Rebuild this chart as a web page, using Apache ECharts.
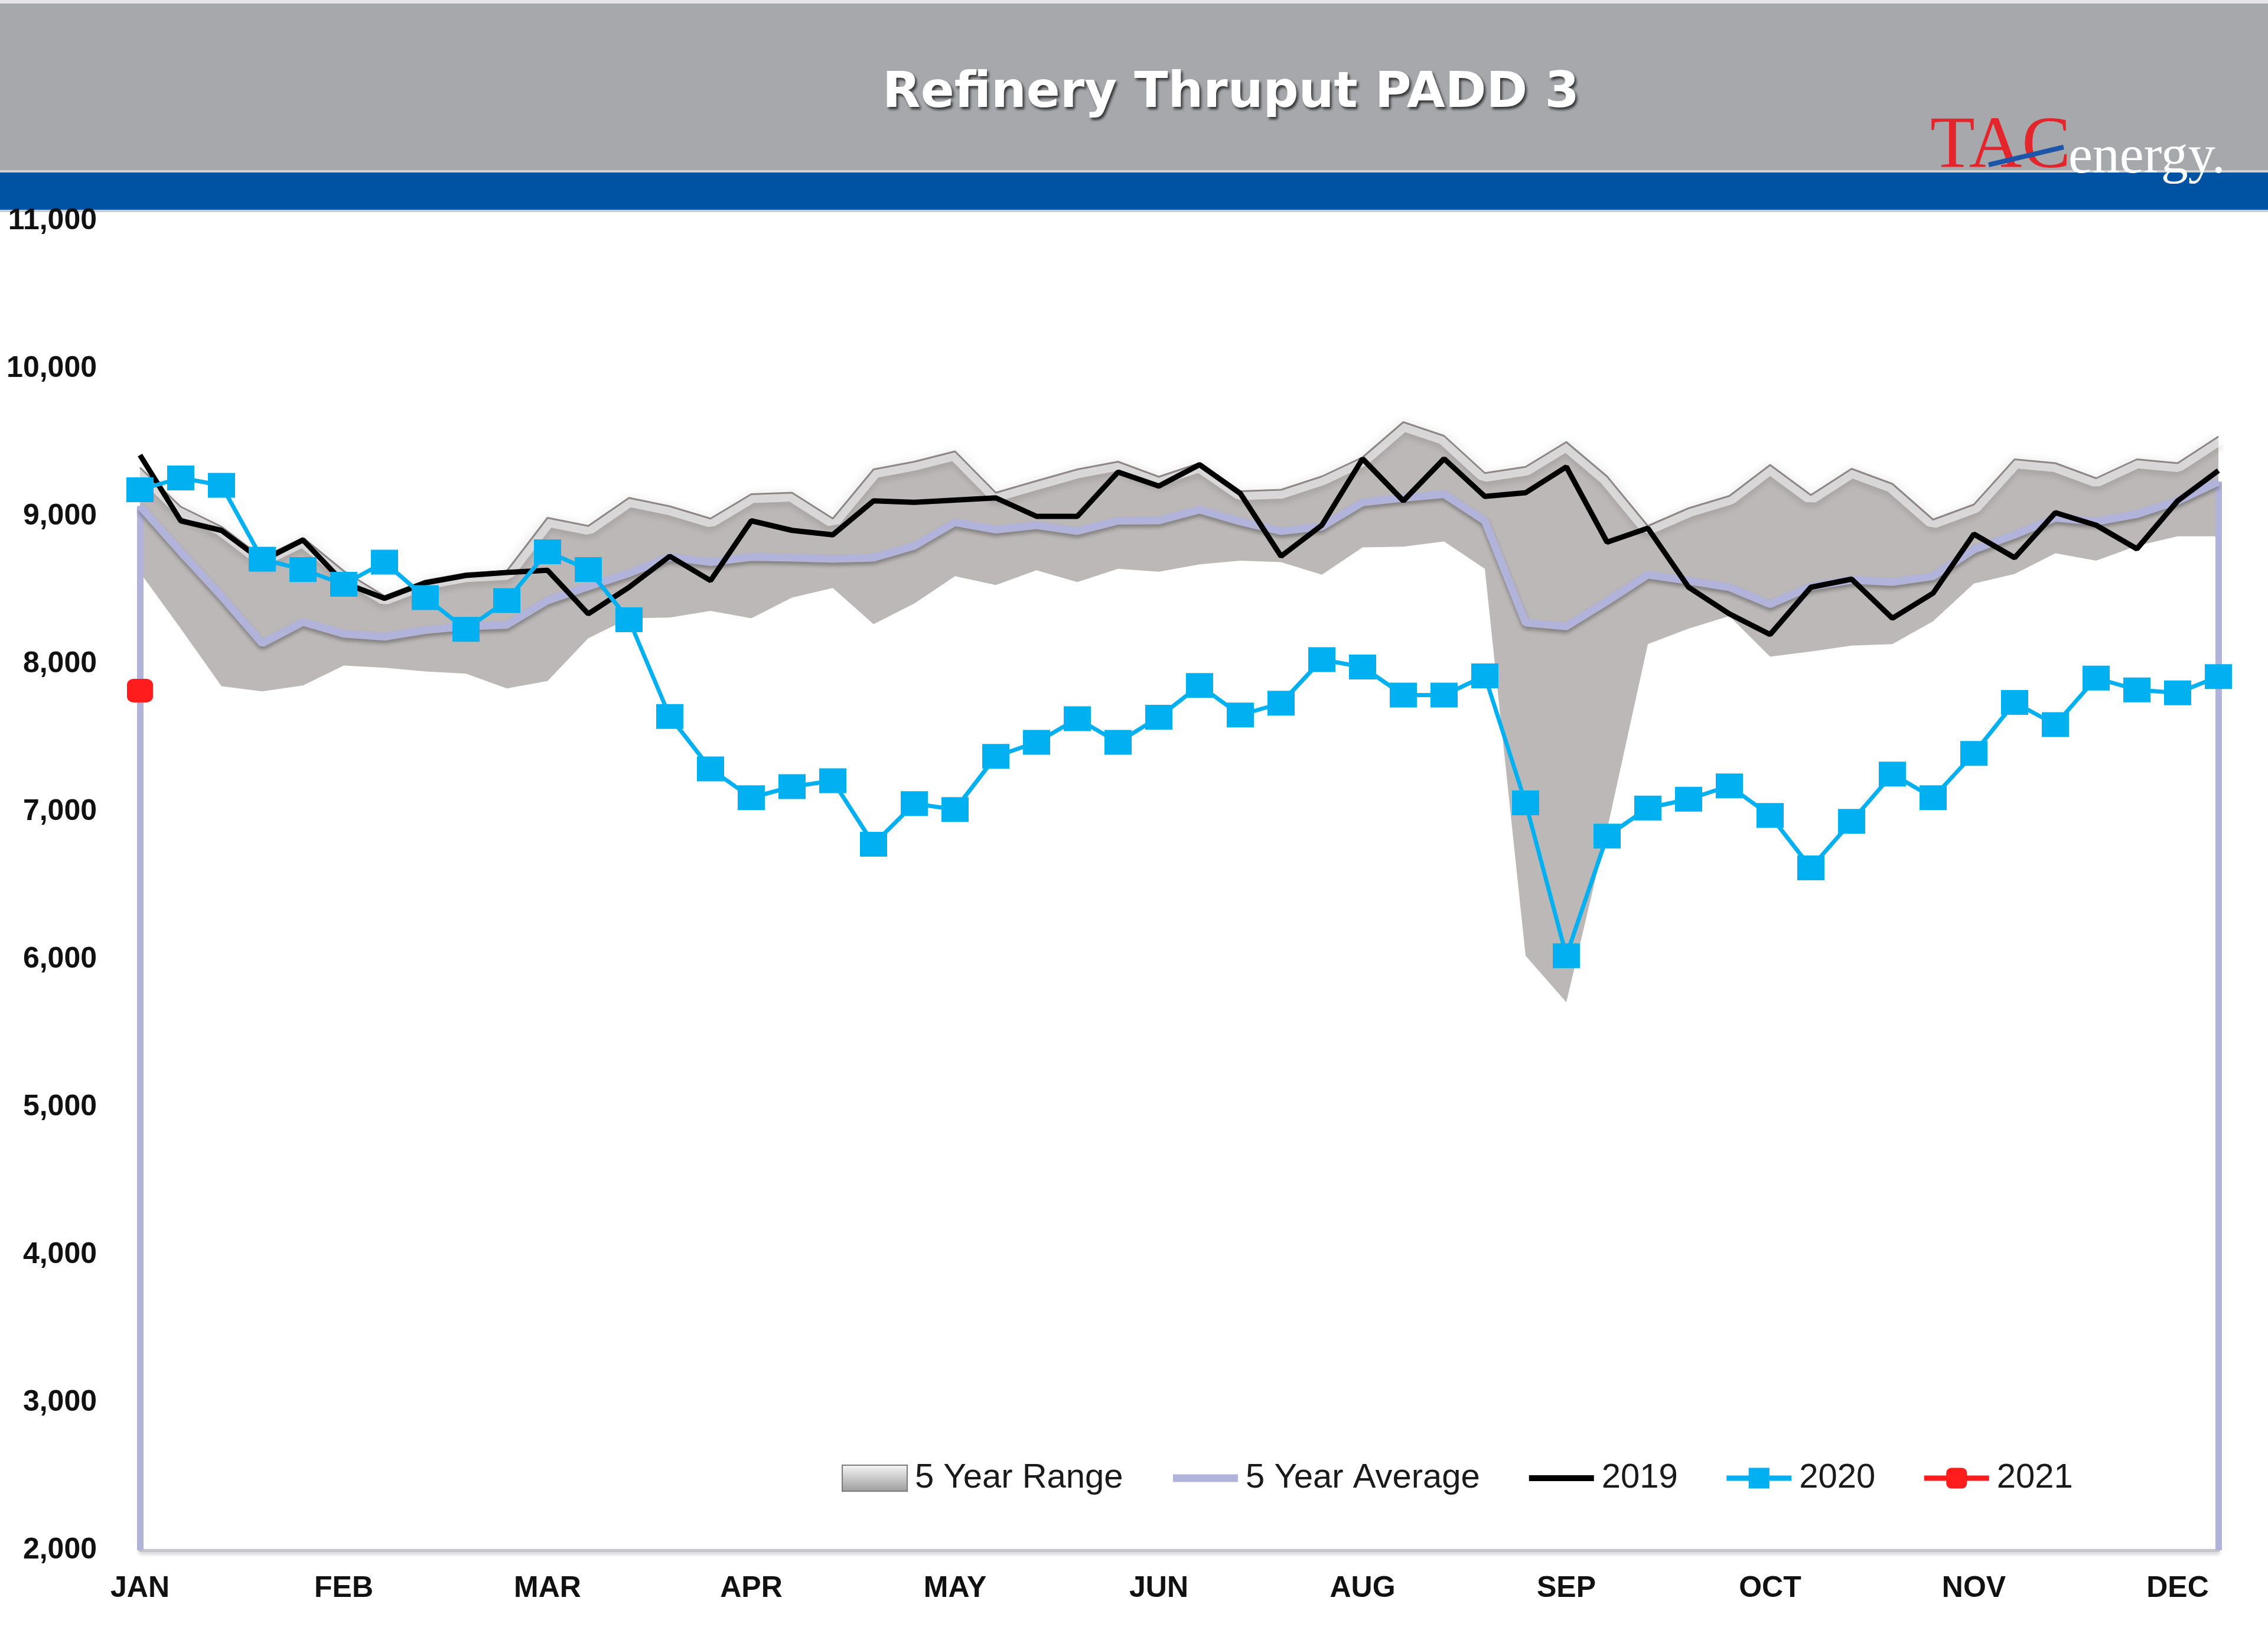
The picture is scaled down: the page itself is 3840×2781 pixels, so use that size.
<!DOCTYPE html>
<html>
<head>
<meta charset="utf-8">
<script src="https://cdn.jsdelivr.net/npm/echarts@6/dist/echarts.min.js"></script>
<style>
  html, body { margin: 0; padding: 0; background: #ffffff; }
  #chart { width: 3840px; height: 2781px; }
</style>
</head>
<body>
<div id="chart"></div>
<script>
// ---------- DATA ----------
const weeks = ['W1','W2','W3','W4','W5','W6','W7','W8','W9','W10','W11','W12','W13','W14','W15','W16','W17','W18','W19','W20','W21','W22','W23','W24','W25','W26','W27','W28','W29','W30','W31','W32','W33','W34','W35','W36','W37','W38','W39','W40','W41','W42','W43','W44','W45','W46','W47','W48','W49','W50','W51','W52'];
const monthLabels = ['JAN','FEB','MAR','APR','MAY','JUN','AUG','SEP','OCT','NOV','DEC'];
const yTicks = [2000, 11000, 1000]; // min, max, step

const rangeLow = [8620, 8240, 7850, 7815, 7855, 7990, 7975, 7950, 7935, 7835, 7885, 8175, 8310, 8315, 8360, 8310, 8450, 8515, 8270, 8410, 8595, 8535, 8635, 8555, 8645, 8625, 8675, 8700, 8690, 8605, 8790, 8795, 8830, 8645, 6025, 5710, 6880, 8135, 8240, 8325, 8050, 8085, 8125, 8135, 8290, 8545, 8610, 8750, 8700, 8800, 8865, 8865];
const rangeHigh = [9330, 9065, 8930, 8720, 8855, 8630, 8460, 8565, 8615, 8630, 8990, 8935, 9125, 9068, 8985, 9150, 9160, 8985, 9318, 9370, 9440, 9160, 9240, 9318, 9370, 9268, 9360, 9170, 9180, 9270, 9400, 9638, 9545, 9293, 9335, 9503, 9270, 8935, 9055, 9138, 9348, 9144, 9322, 9220, 8978, 9080, 9386, 9360, 9258, 9386, 9360, 9540];
const avg5 = [9070, 8760, 8460, 8140, 8285, 8205, 8185, 8230, 8255, 8265, 8430, 8525, 8615, 8725, 8690, 8725, 8720, 8712, 8720, 8800, 8960, 8910, 8940, 8900, 8970, 8972, 9045, 8965, 8900, 8930, 9095, 9125, 9150, 8970, 8280, 8255, 8425, 8605, 8565, 8520, 8405, 8525, 8570, 8555, 8595, 8775, 8875, 8990, 8965, 9015, 9105, 9235];
const y2019 = [9415, 8970, 8905, 8700, 8840, 8550, 8445, 8550, 8600, 8620, 8635, 8340, 8520, 8730, 8565, 8970, 8905, 8875, 9105, 9095, 9110, 9125, 9000, 9000, 9300, 9205, 9350, 9155, 8730, 8940, 9390, 9105, 9390, 9135, 9160, 9335, 8825, 8920, 8520, 8340, 8200, 8520, 8575, 8310, 8480, 8880, 8720, 9025, 8940, 8780, 9105, 9310];
const y2020 = [9180, 9260, 9210, 8710, 8640, 8540, 8690, 8450, 8235, 8430, 8760, 8640, 8300, 7645, 7290, 7095, 7170, 7210, 6780, 7055, 7015, 7375, 7470, 7630, 7470, 7640, 7855, 7655, 7735, 8030, 7980, 7790, 7790, 7920, 7060, 6025, 6835, 7025, 7085, 7175, 6975, 6620, 6935, 7255, 7095, 7395, 7740, 7590, 7905, 7825, 7805, 7915];
const y2021 = [7820];

// ---------- CHART ----------
const rangeSpan = rangeHigh.map((v, i) => v - rangeLow[i]);
const last = weeks.length - 1;
const axisFont = '"Liberation Sans", Arial, sans-serif';
const lavender = '#b2b3da';
const cyan = '#00b0f0';
const red = '#ff1c1c';
const noSymbol = { color: 'rgba(0,0,0,0)', borderWidth: 0 };

const chart = echarts.init(document.getElementById('chart'), null, { renderer: 'canvas' });

chart.setOption({
  animation: false,
  backgroundColor: '#ffffff',
  title: {
    text: 'Refinery Thruput PADD 3',
    left: 2079,
    top: 112,
    textAlign: 'center',
    textStyle: {
      color: '#ffffff',
      fontSize: 84,
      fontWeight: 'bold',
      fontFamily: '"DejaVu Sans", Verdana, sans-serif',
      textShadowColor: 'rgba(30,30,30,0.85)',
      textShadowBlur: 4,
      textShadowOffsetX: 3,
      textShadowOffsetY: 4
    }
  },
  graphic: [
    { type: 'rect', z: -10, shape: { x: 0, y: 0, width: 3840, height: 6 }, style: { fill: '#e6e6e8' } },
    { type: 'rect', z: -10, shape: { x: 0, y: 6, width: 3840, height: 284 }, style: { fill: '#a7a8ac' } },
    { type: 'rect', z: -10, shape: { x: 0, y: 288, width: 3840, height: 4 }, style: { fill: '#d6d0cb' } },
    { type: 'rect', z: -10, shape: { x: 0, y: 292, width: 3840, height: 63 }, style: { fill: '#0053a2' } },
    { type: 'rect', z: -10, shape: { x: 0, y: 355, width: 3840, height: 4 }, style: { fill: '#c9ccd3' } },
    {
      type: 'text', z: 10,
      style: { text: 'TAC', x: 3268, y: 250, fill: '#e4262c', font: '124px "Liberation Serif", "Times New Roman", serif', align: 'left', verticalAlign: 'middle' }
    },
    {
      type: 'line', z: 11,
      shape: { x1: 3367, y1: 279, x2: 3494, y2: 249 },
      style: { stroke: '#1d56a8', lineWidth: 8 }
    },
    {
      type: 'text', z: 10,
      style: { text: 'energy.', x: 3502, y: 268, fill: '#ffffff', font: '92px "Liberation Serif", "Times New Roman", serif', align: 'left', verticalAlign: 'middle' }
    }
  ],
  legend: {
    left: 1420,
    top: 2468,
    itemWidth: 110,
    itemHeight: 44,
    itemGap: 78,
    textStyle: {
      fontFamily: axisFont,
      fontSize: 58,
      color: '#1a1a1a',
      padding: [0, 0, 0, 8]
    },
    data: [
      {
        name: '5 Year Range', icon: 'rect',
        itemStyle: {
          color: { type: 'linear', x: 0, y: 0, x2: 0, y2: 1, colorStops: [{ offset: 0, color: '#f6f6f6' }, { offset: 1, color: '#9c9c9c' }] },
          borderColor: '#7a7a7a', borderWidth: 2
        }
      },
      { name: '5 Year Average', itemStyle: noSymbol, lineStyle: { width: 13, color: lavender } },
      { name: '2019', itemStyle: noSymbol, lineStyle: { width: 10, color: '#000000' } },
      { name: '2020', itemStyle: { color: cyan }, lineStyle: { width: 9, color: cyan } },
      { name: '2021', itemStyle: { color: red }, lineStyle: { width: 9, color: red } }
    ]
  },
  grid: { left: 237, right: 84, top: 374, bottom: 157, containLabel: false },
  xAxis: {
    type: 'category',
    data: weeks,
    boundaryGap: false,
    axisLine: { show: true, lineStyle: { color: '#c6c6ca', width: 5, shadowColor: 'rgba(0,0,0,0.25)', shadowBlur: 6, shadowOffsetY: 3 } },
    axisTick: { show: false },
    splitLine: { show: false },
    axisLabel: {
      interval: 4,
      margin: 40,
      fontFamily: axisFont,
      fontSize: 50,
      fontWeight: 'bold',
      color: '#111111',
      formatter: (v, i) => (i % 5 === 0 && monthLabels[i / 5]) ? monthLabels[i / 5] : ''
    }
  },
  yAxis: {
    type: 'value',
    min: yTicks[0],
    max: yTicks[1],
    interval: yTicks[2],
    axisLine: { show: false },
    axisTick: { show: false },
    splitLine: { show: false },
    axisLabel: {
      margin: 73,
      fontFamily: axisFont,
      fontSize: 50,
      fontWeight: 'bold',
      color: '#111111',
      formatter: v => v.toLocaleString('en-US')
    }
  },
  series: [
    {
      name: 'rangeBase', type: 'line', data: rangeLow, stack: 'range', symbol: 'none', silent: true,
      lineStyle: { width: 0, opacity: 0 }, z: 1
    },
    {
      name: '5 Year Range', type: 'line', data: rangeSpan, stack: 'range', symbol: 'none', silent: true,
      lineStyle: { width: 0, opacity: 0 },
      itemStyle: { color: '#bbb7b7' },
      areaStyle: { color: '#bcb8b8', opacity: 1 }, z: 2
    },
    {
      name: 'rangeHighlight', type: 'line', data: rangeHigh, symbol: 'none', silent: true,
      lineStyle: { width: 30, color: 'rgba(255,255,255,0.55)', shadowColor: 'rgba(0,0,0,0.18)', shadowBlur: 10, shadowOffsetY: 8 }, z: 3
    },
    {
      name: 'rangeEdge', type: 'line', data: rangeHigh, symbol: 'none', silent: true,
      lineStyle: { width: 3, color: '#8f8687' }, z: 4
    },
    {
      name: '5 Year Average', type: 'line', data: avg5, symbol: 'none',
      itemStyle: { color: lavender },
      lineStyle: { width: 13, color: lavender, shadowColor: 'rgba(0,0,0,0.3)', shadowBlur: 6, shadowOffsetY: 5 },
      markLine: {
        silent: true,
        symbol: ['none', 'none'],
        label: { show: false },
        lineStyle: { color: lavender, width: 11, type: 'solid' },
        data: [
          [{ coord: [0, avg5[0]] }, { coord: [0, yTicks[0]] }],
          [{ coord: [last, avg5[last]] }, { coord: [last, yTicks[0]] }]
        ]
      },
      z: 5
    },
    {
      name: '2019', type: 'line', data: y2019, symbol: 'none',
      itemStyle: { color: '#000000' },
      lineStyle: { width: 9, color: '#000000' }, z: 6
    },
    {
      name: '2020', type: 'line', data: y2020, symbol: 'rect', symbolSize: [46, 42], showAllSymbol: true,
      itemStyle: { color: cyan },
      lineStyle: { width: 7, color: cyan }, z: 7
    },
    {
      name: '2021', type: 'line', data: y2021, symbol: 'roundRect', symbolSize: [44, 40], showAllSymbol: true,
      itemStyle: { color: red },
      lineStyle: { width: 7, color: red }, z: 8
    }
  ]
});
</script>
</body>
</html>
